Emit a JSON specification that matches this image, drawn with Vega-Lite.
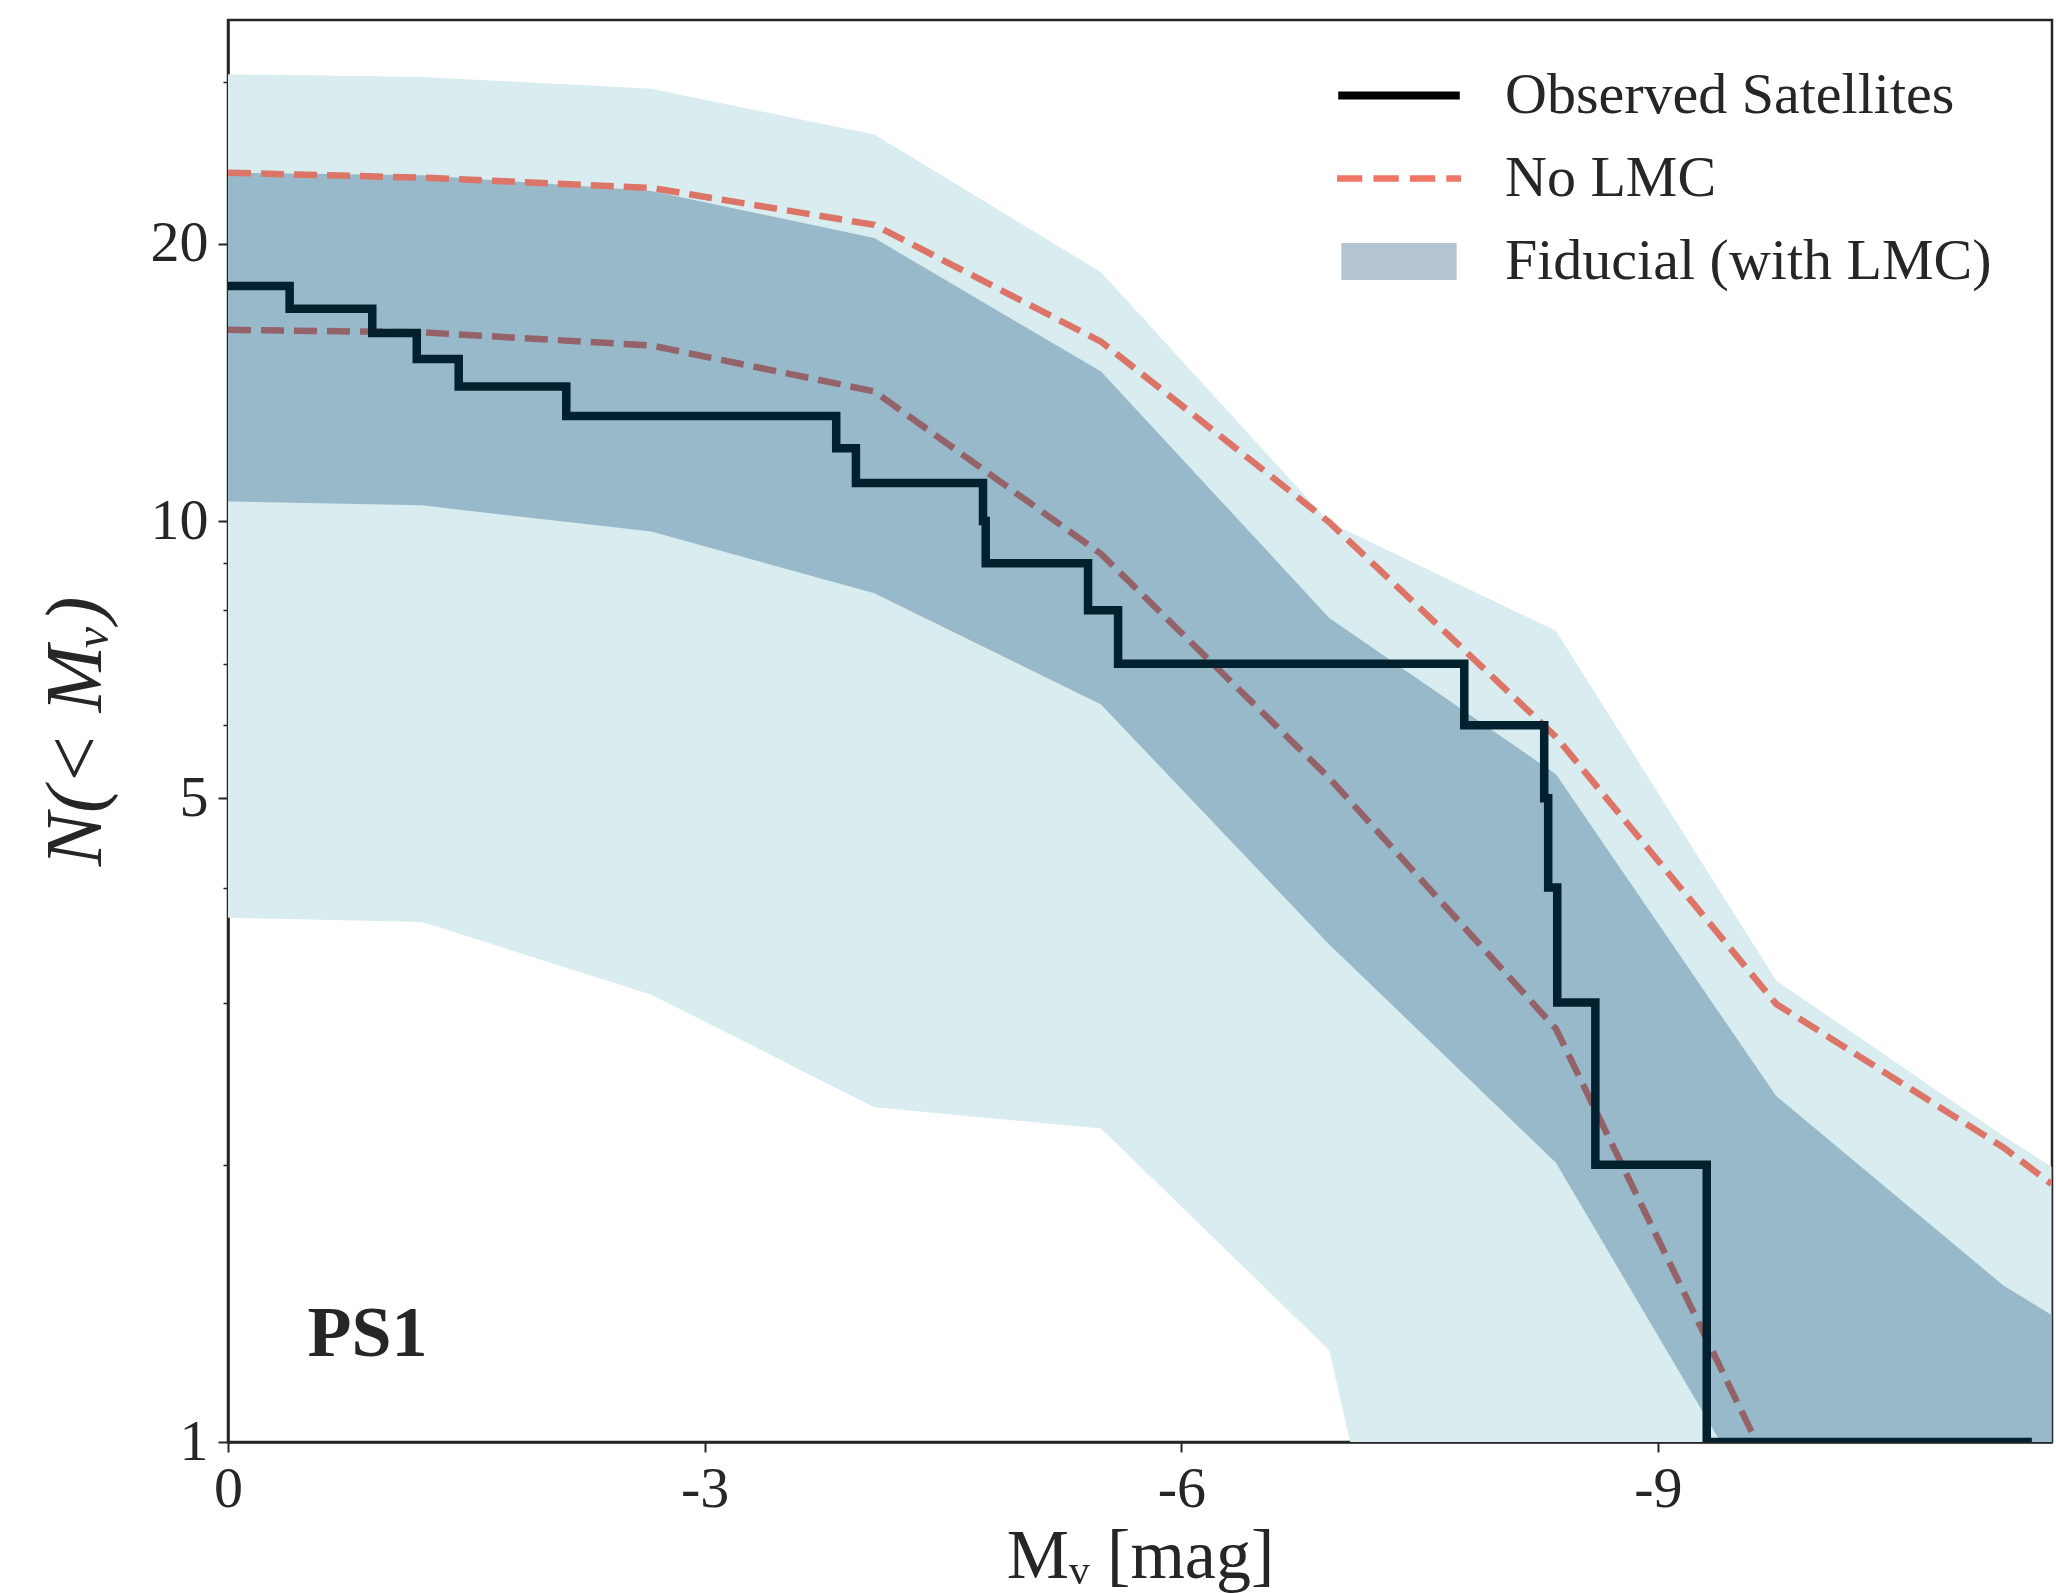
{
  "$schema": "https://vega.github.io/schema/vega-lite/v6.json",
  "width": 1824,
  "height": 1422,
  "autosize": {"type": "none"},
  "padding": {"left": 228, "top": 20, "right": 4, "bottom": 151},
  "background": "white",
  "config": {
    "view": {"stroke": "#262626", "strokeWidth": 2.5},
    "axis": {
      "domainColor": "#262626", "domainWidth": 2.5,
      "tickColor": "#262626", "tickWidth": 2, "tickSize": 10,
      "labelFont": "Liberation Serif", "labelFontSize": 58, "labelColor": "#262626",
      "titleFont": "Liberation Serif", "titleFontSize": 72, "titleColor": "#262626", "titleFontWeight": "normal",
      "grid": false, "labelFlush": false, "labelOverlap": false
    },
    "legend": {
      "orient": "none", "legendX": 1109, "legendY": 34,
      "padding": 0, "rowPadding": 0, "clipHeight": 83,
      "labelFont": "Liberation Serif", "labelFontSize": 58, "labelColor": "#262626",
      "labelOffset": 44, "symbolStrokeWidth": 0, "symbolOpacity": 1,
      "symbolSize": 15376, "labelLimit": 1000
    }
  },
  "datasets": {
    "bands": [
      {"mv": 0, "lo_out": 3.71, "hi_out": 30.56, "lo_in": 10.5, "hi_in": 23.89},
      {"mv": -1.221, "lo_out": 3.67, "hi_out": 30.36, "lo_in": 10.4, "hi_in": 23.74},
      {"mv": -2.665, "lo_out": 3.06, "hi_out": 29.47, "lo_in": 9.74, "hi_in": 22.83},
      {"mv": -4.068, "lo_out": 2.31, "hi_out": 26.28, "lo_in": 8.35, "hi_in": 20.29},
      {"mv": -5.495, "lo_out": 2.19, "hi_out": 18.63, "lo_in": 6.32, "hi_in": 14.53},
      {"mv": -6.931, "lo_out": 1.258, "hi_out": 9.97, "lo_in": 3.47, "hi_in": 7.85},
      {"mv": -8.358, "lo_out": 0.105, "hi_out": 7.6, "lo_in": 2.01, "hi_in": 5.31},
      {"mv": -9.744, "lo_out": 0.1, "hi_out": 3.17, "lo_in": 0.79, "hi_in": 2.375},
      {"mv": -11.172, "lo_out": 0.1, "hi_out": 2.15, "lo_in": 0.5, "hi_in": 1.48},
      {"mv": -11.477, "lo_out": 0.1, "hi_out": 1.99, "lo_in": 0.5, "hi_in": 1.374}
    ],
    "nolmc": [
      {"curve": "upper", "mv": 0, "n": 23.89},
      {"curve": "upper", "mv": -1.221, "n": 23.6},
      {"curve": "upper", "mv": -2.665, "n": 23.0},
      {"curve": "upper", "mv": -4.068, "n": 20.97},
      {"curve": "upper", "mv": -5.495, "n": 15.66},
      {"curve": "upper", "mv": -6.931, "n": 9.97},
      {"curve": "upper", "mv": -8.358, "n": 5.83},
      {"curve": "upper", "mv": -9.744, "n": 2.99},
      {"curve": "upper", "mv": -11.172, "n": 2.09},
      {"curve": "upper", "mv": -11.477, "n": 1.906},
      {"curve": "lower", "mv": 0, "n": 16.13},
      {"curve": "lower", "mv": -1.221, "n": 16.03},
      {"curve": "lower", "mv": -2.665, "n": 15.51},
      {"curve": "lower", "mv": -4.068, "n": 13.83},
      {"curve": "lower", "mv": -5.495, "n": 9.21},
      {"curve": "lower", "mv": -6.931, "n": 5.26},
      {"curve": "lower", "mv": -8.358, "n": 2.81},
      {"curve": "lower", "mv": -9.744, "n": 0.904},
      {"curve": "lower", "mv": -11.172, "n": 0.2},
      {"curve": "lower", "mv": -11.477, "n": 0.15}
    ],
    "obs": [
      {"i": 0, "mv": 0, "n": 18},
      {"i": 1, "mv": -0.388, "n": 17},
      {"i": 2, "mv": -0.908, "n": 16},
      {"i": 3, "mv": -1.188, "n": 15},
      {"i": 4, "mv": -1.452, "n": 14},
      {"i": 5, "mv": -2.129, "n": 13},
      {"i": 6, "mv": -3.828, "n": 12},
      {"i": 7, "mv": -3.952, "n": 11},
      {"i": 8, "mv": -4.752, "n": 10},
      {"i": 9, "mv": -4.769, "n": 9},
      {"i": 10, "mv": -5.413, "n": 8},
      {"i": 11, "mv": -5.602, "n": 7},
      {"i": 12, "mv": -7.781, "n": 6},
      {"i": 13, "mv": -8.284, "n": 5},
      {"i": 14, "mv": -8.309, "n": 4},
      {"i": 15, "mv": -8.366, "n": 3},
      {"i": 16, "mv": -8.606, "n": 2},
      {"i": 17, "mv": -9.307, "n": 1},
      {"i": 18, "mv": -11.353, "n": 1}
    ],
    "labels": [
      {"mv": -0.5, "n": 1.31, "text": "PS1"}
    ],
    "legend": [
      {"series": "Observed Satellites"},
      {"series": "No LMC"},
      {"series": "Fiducial (with LMC)"}
    ]
  },
  "resolve": {"axis": {"y": "independent"}},
  "layer": [
    {
      "data": {"name": "bands"},
      "mark": {"type": "area", "color": "#d9ecef", "opacity": 1, "clip": true},
      "encoding": {
        "x": {
          "field": "mv", "type": "quantitative",
          "scale": {"domain": [-11.48, 0], "reverse": true, "nice": false, "zero": false},
          "axis": {
            "values": [0, -3, -6, -9],
            "labelExpr": "datum.value == 0 ? '0' : '-' + format(abs(datum.value), 'd')",
            "labelPadding": 8, "title": "Mᵥ [mag]", "titleFontSize": 70,
            "titleBaseline": "alphabetic", "titleY": 135
          }
        },
        "y": {
          "field": "hi_out", "type": "quantitative",
          "scale": {"type": "log", "domain": [1, 35], "nice": false},
          "axis": {
            "orient": "left", "values": [1, 5, 10, 20], "format": "d",
            "labelPadding": 10, "title": "N(< Mᵥ)", "titleFontStyle": "italic",
            "titleFontSize": 80, "titleBaseline": "alphabetic", "titleX": -128
          }
        },
        "y2": {"field": "lo_out"}
      }
    },
    {
      "data": {"name": "bands"},
      "mark": {"type": "area", "color": "#98b9c9", "opacity": 1, "clip": true},
      "encoding": {
        "x": {"field": "mv", "type": "quantitative"},
        "y": {
          "field": "hi_in", "type": "quantitative",
          "axis": {
            "orient": "left", "values": [2, 3, 4, 6, 7, 8, 9, 30],
            "labels": false, "domain": false, "tickSize": 5, "tickWidth": 1.5, "title": null
          }
        },
        "y2": {"field": "lo_in"}
      }
    },
    {
      "data": {"name": "nolmc"},
      "transform": [{"filter": "datum.curve == 'upper'"}],
      "mark": {"type": "line", "color": "#dc7468", "strokeWidth": 6.5, "strokeDash": [23, 10], "clip": true},
      "encoding": {
        "x": {"field": "mv", "type": "quantitative"},
        "y": {"field": "n", "type": "quantitative", "axis": null}
      }
    },
    {
      "data": {"name": "nolmc"},
      "transform": [{"filter": "datum.curve == 'lower'"}],
      "mark": {"type": "line", "color": "#94636a", "strokeWidth": 6.5, "strokeDash": [23, 10], "clip": true},
      "encoding": {
        "x": {"field": "mv", "type": "quantitative"},
        "y": {"field": "n", "type": "quantitative", "axis": null}
      }
    },
    {
      "data": {"name": "obs"},
      "mark": {"type": "line", "color": "#02202d", "strokeWidth": 8.5, "interpolate": "step-after", "clip": true},
      "encoding": {
        "x": {"field": "mv", "type": "quantitative"},
        "y": {"field": "n", "type": "quantitative", "axis": null},
        "order": {"field": "i", "type": "quantitative"}
      }
    },
    {
      "data": {"name": "labels"},
      "mark": {"type": "text", "font": "Liberation Serif", "fontSize": 72, "fontWeight": "bold", "color": "#262626", "align": "left", "baseline": "middle"},
      "encoding": {
        "x": {"field": "mv", "type": "quantitative"},
        "y": {"field": "n", "type": "quantitative", "axis": null},
        "text": {"field": "text"}
      }
    },
    {
      "data": {"name": "legend"},
      "mark": {"type": "point", "filled": true, "opacity": 1, "size": 15376, "strokeWidth": 0, "clip": true},
      "encoding": {
        "x": {"datum": 3},
        "y": {"datum": 2, "axis": null},
        "color": {
          "field": "series", "type": "nominal",
          "scale": {"domain": ["Observed Satellites", "No LMC", "Fiducial (with LMC)"], "range": ["#000000", "#f07565", "#b3c5d3"]},
          "legend": {"title": null}
        },
        "shape": {
          "field": "series", "type": "nominal",
          "scale": {
            "domain": ["Observed Satellites", "No LMC", "Fiducial (with LMC)"],
            "range": [
              "M-0.98,-0.065H0.98V0.065H-0.98Z",
              "M-1,-0.052H-0.592V0.052H-1Z M-0.412,-0.052H-0.004V0.052H-0.412Z M0.176,-0.052H0.584V0.052H0.176Z M0.763,-0.052H1V0.052H0.763Z",
              "M-0.93,-0.3H0.93V0.3H-0.93Z"
            ]
          },
          "legend": {"title": null}
        }
      }
    }
  ]
}
